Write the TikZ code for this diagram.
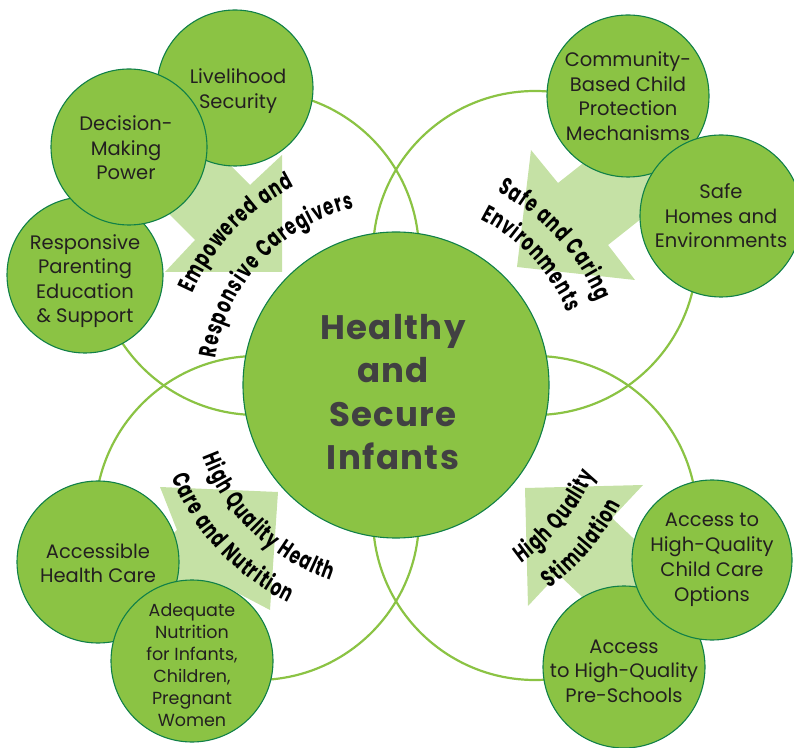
\documentclass[tikz,border=0pt]{standalone}
\usepackage{fontspec}
\setmainfont{Poppins}
\newfontfamily\labelfont{Poppins}[FakeStretch=0.68]
\newfontfamily\centerfont{Poppins}[LetterSpace=4]
\usetikzlibrary{decorations.text,calc}
\definecolor{leaf}{RGB}{139,195,68}
\definecolor{rim}{RGB}{16,128,72}
\definecolor{pale}{RGB}{197,225,165}
\definecolor{ink}{RGB}{35,31,32}
\definecolor{slate}{RGB}{65,64,66}
\newcommand\labfmt{\labelfont\bfseries\fontsize{24}{24}\selectfont}
\tikzset{
  ring/.style={circle, draw=leaf, line width=2.2pt, inner sep=0pt, minimum size=324pt},
  bubble/.style={circle, fill=leaf, draw=rim, line width=1.1pt, inner sep=0pt},
  btext/.style={align=center, text=ink, inner sep=0pt, font=\fontsize{19.5}{24.5}\selectfont},
  sbtext/.style={btext, font=\fontsize{17.5}{22}\selectfont},
  hub/.style={circle, fill=leaf, draw=rim, line width=1.1pt, inner sep=0pt, minimum size=306pt},
  hubtext/.style={align=center, text=slate, inner sep=0pt, font=\centerfont\bfseries\fontsize{34}{43.5}\selectfont},
  bigarrow/.style={fill=pale},
  arclabel/.style={decorate, decoration={text effects along path, text={#1}, text align=center,
    text effects/.cd, text along path, characters={font=\labfmt, text=black},
    character widths={font=\labfmt, inner xsep=0.6pt}}},
}
\begin{document}
\begin{tikzpicture}[x=1pt,y=1pt]
\useasboundingbox (0,0) rectangle (794,747);
\coordinate (C) at (396,362);
% outline rings
\node[ring] (ringTL) at (257,494) {};
\node[ring] (ringTR) at (535,494) {};
\node[ring] (ringBL) at (257,229) {};
\node[ring] (ringBR) at (535,229) {};
% big arrows
\fill[bigarrow] (282,475) -- (282,592) -- (250,562) -- (150,662) -- (95,607) -- (195,507) -- (165,475) -- cycle;
\fill[bigarrow] (517,480) -- (531,597) -- (558,564) -- (644,632) -- (694,570) -- (608,502) -- (635,467) -- cycle;
\fill[bigarrow] (278,255) -- (160,260) -- (177,217) -- (95,144) -- (146,86) -- (228,159) -- (270,137) -- cycle;
\fill[bigarrow] (525,259) -- (643,262) -- (612,229) -- (692,153) -- (638,97) -- (558,173) -- (528,141) -- cycle;
% bubbles
\node[bubble, minimum size=156pt, label={[btext, xshift=3pt, yshift=-3pt]center:Livelihood\\Security}] (live) at (235,659) {};
\node[bubble, minimum size=156pt, label={[btext, yshift=-6pt]center:Responsive\\Parenting\\Education\\\& Support}] (resp) at (85,472) {};
\node[bubble, minimum size=156pt, label={[btext, xshift=-3pt, yshift=-1pt]center:Decision-\\Making\\Power}] (deci) at (129,600) {};
\node[bubble, minimum size=162pt, label={[btext]center:Community-\\Based Child\\Protection\\Mechanisms}] (comm) at (628,651) {};
\node[bubble, minimum size=162pt, label={[btext]center:Safe\\Homes and\\Environments}] (home) at (721,531) {};
\node[bubble, minimum size=162pt, label={[btext, yshift=-1pt]center:Accessible\\Health Care}] (acce) at (98,185) {};
\node[bubble, minimum size=162pt, label={[sbtext, yshift=-4pt]center:Adequate\\Nutrition\\for Infants,\\Children,\\Pregnant\\Women}] (nutr) at (192,86) {};
\node[bubble, minimum size=162pt, label={[btext, yshift=-4pt]center:Access\\to High-Quality\\Pre-Schools}] (pres) at (624,80) {};
\node[bubble, minimum size=160pt, label={[btext, font=\fontsize{19.5}{25}\selectfont]center:Access to\\High-Quality\\Child Care\\Options}] (care) at (712,187) {};
% hub
\node[hub, label={[hubtext, xshift=-3pt, yshift=-7pt]center:Healthy\\and\\Secure\\Infants}] (hub) at (C) {};
% arc labels
\path[arclabel={Empowered and}] ($(C)+(196.5:223pt)$) arc[start angle=196.5, end angle=76.5, radius=223pt];
\path[arclabel={Responsive Caregivers}] ($(C)+(197.5:182pt)$) arc[start angle=197.5, end angle=77.5, radius=182pt];
\path[arclabel={Safe and Caring}] ($(C)+(102.5:218pt)$) arc[start angle=102.5, end angle=-17.5, radius=218pt];
\path[arclabel={Environments}] ($(C)+(103:186pt)$) arc[start angle=103, end angle=-17, radius=186pt];
\path[arclabel={High Quality Health}] ($(C)+(166:206pt)$) arc[start angle=166, end angle=286, radius=206pt];
\path[arclabel={Care and Nutrition}] ($(C)+(163:243pt)$) arc[start angle=163, end angle=283, radius=243pt];
\path[arclabel={High Quality}] ($(C)+(-99.5:218pt)$) arc[start angle=-99.5, end angle=20.5, radius=218pt];
\path[arclabel={Stimulation}] ($(C)+(-100.5:255pt)$) arc[start angle=-100.5, end angle=19.5, radius=255pt];
\end{tikzpicture}
\end{document}
